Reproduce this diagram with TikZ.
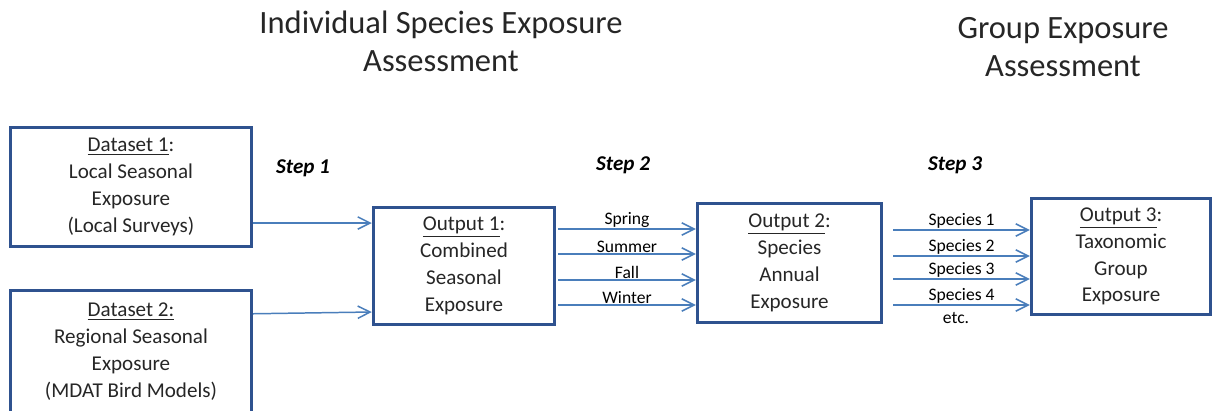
\documentclass[tikz,border=0pt]{standalone}
\usepackage{fontspec}
\setmainfont{Carlito}
\usetikzlibrary{arrows.meta,positioning}

\definecolor{boxblue}{HTML}{2F528F}
\definecolor{arrowblue}{HTML}{4A7EBB}

\tikzset{
  box/.style={draw=boxblue, line width=2pt, align=center, text=black!85,
    font=\fontsize{12}{15.3}\selectfont},
  arr/.style={draw=arrowblue, line width=0.85pt, -{Straight Barb[length=7pt,width=7pt]}},
  lbl/.style={font=\fontsize{10}{12}\selectfont, inner sep=0.5pt},
  steplbl/.style={font=\fontsize{12}{14}\selectfont\bfseries\itshape},
  title/.style={align=center, font=\fontsize{18.5}{21.5}\selectfont, text=black!85}
}

\begin{document}
\begin{tikzpicture}[x=0.02cm, y=-0.02cm]
      \useasboundingbox (0,0) rectangle (1214,410);
      \clip (0,0) rectangle (1214,410);

      % titles
      \node[title] (ttl1) at (441,41) {Individual Species Exposure\\Assessment};
      \node[title] (ttl2) at (1063,47) {Group Exposure\\Assessment};

      % boxes
      \node[box, minimum width=4.82cm, minimum height=2.38cm] (d1) at (131,187)
        {\underline{Dataset 1}:\\Local Seasonal\\Exposure\\(Local Surveys)};
      \node[box, minimum width=4.82cm, minimum height=2.45cm] (d2) at (131,351.75)
        {\underline{Dataset 2:}\\Regional Seasonal\\Exposure\\(MDAT Bird Models)};
      \node[box, minimum width=3.62cm, minimum height=2.34cm] (o1) at (464,266)
        {\underline{Output 1}:\\Combined\\Seasonal\\Exposure};
      \node[box, minimum width=3.68cm, minimum height=2.38cm] (o2) at (789.5,263)
        {\underline{Output 2}:\\Species\\Annual\\Exposure};
      \node[box, minimum width=3.58cm, minimum height=2.32cm] (o3) at (1121,256.5)
        {\underline{Output 3}:\\Taxonomic\\Group\\Exposure};

      % step labels
      \node[steplbl] (st1) at (303,168) {Step 1};
      \node[steplbl] (st2) at (623,165) {Step 2};
      \node[steplbl] (st3) at (955,165) {Step 3};

      % step 1
      \draw[arr] ([shift={(0,36)}]d1.east) -- ([shift={(0,-43)}]o1.west);
      \draw[arr] ([shift={(0,25)}]d2.north east) -- ([shift={(0,46)}]o1.west);

      % step 2
      \foreach \season/\dy in {Spring/-37, Summer/-12, Fall/14, Winter/39}
        \draw[arr] ([shift={(2,\dy)}]o1.east) coordinate (s) -- (s -| o2.west)
          node[midway, above, lbl] {\season};

      % step 3
      \foreach \sp/\dy in {Species 1/-33, Species 2/-7, Species 3/16, Species 4/42}
        \draw[arr] ([shift={(10,\dy)}]o2.east) coordinate (s) -- (s -| o3.west)
          node[midway, above, lbl] {\sp};
      \node[lbl] (etc) at (956,318) {etc.};
    \end{tikzpicture}
\end{document}
